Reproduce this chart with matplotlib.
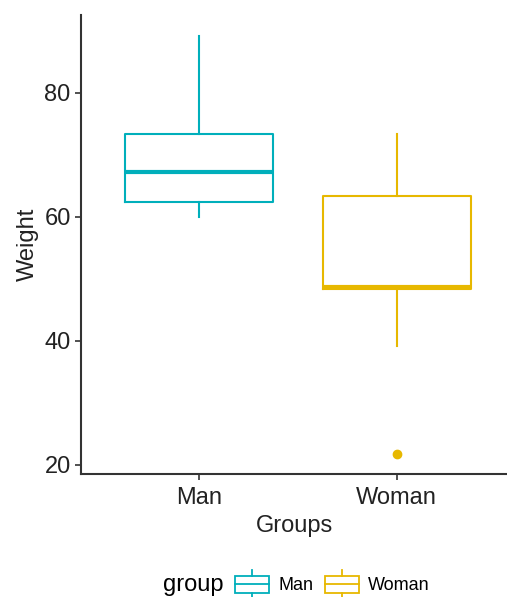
import matplotlib
matplotlib.use("Agg")
import matplotlib.pyplot as plt
from matplotlib.legend_handler import HandlerBase
from matplotlib.patches import Rectangle
from matplotlib.lines import Line2D
from matplotlib.offsetbox import HPacker

plt.rcParams['font.family'] = ['Liberation Sans', 'DejaVu Sans']

# data (box stats)
groups = ["Man", "Woman"]
colors = ["#00AFBB", "#E7B800"]
whislo = [60.0, 39.1]
q1 = [62.4, 48.3]
med = [67.3, 48.7]
q3 = [73.3, 63.4]
whishi = [89.2, 73.3]
fliers = [[], [21.8]]

stats = []
for i, g in enumerate(groups):
    stats.append(dict(label=g, whislo=whislo[i], q1=q1[i], med=med[i],
                      q3=q3[i], whishi=whishi[i], fliers=fliers[i]))

fig = plt.figure(figsize=(5.07, 5.97), dpi=100)
ax = fig.add_axes([0.16, 0.206, 0.84, 0.769])

for i, s in enumerate(stats):
    c = colors[i]
    ax.bxp([s], positions=[i + 1], widths=0.75, showcaps=False,
           boxprops=dict(color=c, linewidth=1.5),
           whiskerprops=dict(color=c, linewidth=1.5),
           medianprops=dict(color=c, linewidth=3),
           flierprops=dict(marker='o', markerfacecolor=c, markeredgecolor=c,
                           markersize=6))

ax.set_xlim(0.4, 2.56)
ax.set_ylim(18.5, 92.6)
ax.set_yticks([20, 40, 60, 80])
ax.set_xticks([1, 2])
ax.set_xticklabels(groups)
for sp in ['top', 'right']:
    ax.spines[sp].set_visible(False)
for sp in ['left', 'bottom']:
    ax.spines[sp].set_linewidth(1.5)
    ax.spines[sp].set_color('#333333')
ax.tick_params(axis='both', labelsize=17, colors='#333333', width=1.2, length=4,
               labelcolor='#222222')
ax.tick_params(axis='x', pad=5)
ax.set_xlabel("Groups", fontsize=17, color='#222222', labelpad=5)
ax.set_ylabel("Weight", fontsize=17, color='#222222', labelpad=4)


class BoxHandler(HandlerBase):
    def create_artists(self, legend, orig_handle, xdescent, ydescent,
                       width, height, fontsize, trans):
        c = orig_handle.get_color()
        w = width * 0.85
        x0 = -xdescent + (width - w) / 2
        y0 = -ydescent
        rect = Rectangle((x0, y0), w, height, facecolor='white',
                         edgecolor=c, linewidth=1.3, transform=trans)
        mid = Line2D([x0, x0 + w], [y0 + height / 2] * 2, color=c,
                     linewidth=1.3, transform=trans)
        top = Line2D([x0 + w / 2] * 2, [y0 + height, y0 + height * 1.3],
                     color=c, linewidth=1.3, transform=trans)
        bot = Line2D([x0 + w / 2] * 2, [y0, y0 - height * 0.3],
                     color=c, linewidth=1.3, transform=trans)
        return [rect, mid, top, bot]


handles = [Line2D([], [], color=c) for c in colors]
leg = fig.legend(handles, groups, loc='center', bbox_to_anchor=(0.585, 0.02),
                 ncol=3, frameon=False, fontsize=13, title="group",
                 title_fontsize=17, handler_map={Line2D: BoxHandler()},
                 handlelength=2.2, handleheight=1.1, handletextpad=0.35,
                 columnspacing=0.5)
# put title inline with entries
title_box = leg._legend_title_box
entries = leg._legend_handle_box
leg._legend_box._children = [HPacker(pad=0, sep=6, children=[title_box, entries],
                                     align="center")]

fig.savefig("out.png", dpi=100)
